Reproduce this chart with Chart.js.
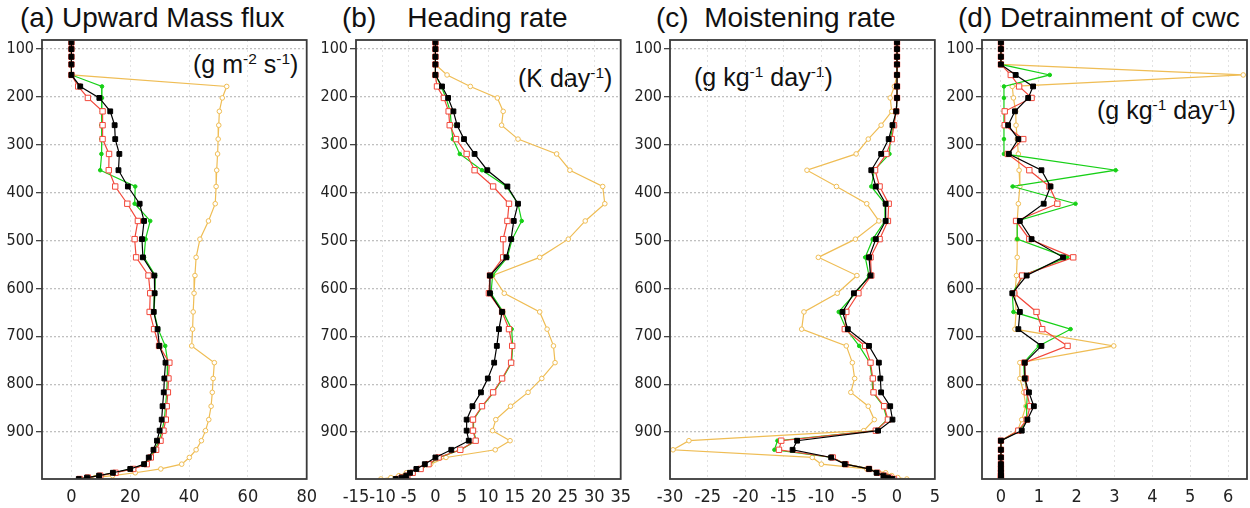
<!DOCTYPE html>
<html>
<head>
<meta charset="utf-8">
<script src="https://cdn.jsdelivr.net/npm/chart.js@4"></script>
<style>
body { margin: 0; background: #fff; width: 1250px; height: 508px; position: relative; overflow: hidden; font-family: 'Liberation Sans', Arial, sans-serif; color: #111; }
canvas { position: absolute; top: 0; }
.ttl { position: absolute; top: 0px; font-size: 28px; white-space: pre; line-height: 36px; }
.unit { position: absolute; font-size: 25px; white-space: pre; line-height: 30px; }
.unit sup { font-size: 62%; position: relative; top: -0.6em; vertical-align: baseline; }
</style>
</head>
<body>
<div class="ttl" style="left:20px">(a) Upward Mass flux</div>
<div class="ttl" style="left:342px">(b)    Heading rate</div>
<div class="ttl" style="left:656px">(c)  Moistening rate</div>
<div class="ttl" style="left:958px">(d) Detrainment of cwc</div>
<div class="unit" style="left:193px;top:49px">(g m<sup>-2</sup> s<sup>-1</sup>)</div>
<div class="unit" style="left:518px;top:63px">(K day<sup>-1</sup>)</div>
<div class="unit" style="left:694px;top:62px">(g kg<sup>-1</sup> day<sup>-1</sup>)</div>
<div class="unit" style="left:1097px;top:95px">(g kg<sup>-1</sup> day<sup>-1</sup>)</div>
<canvas id="ca" width="325" height="508" style="left:0px"></canvas>
<canvas id="cb" width="325" height="508" style="left:314px"></canvas>
<canvas id="cc" width="320" height="508" style="left:628px"></canvas>
<canvas id="cd" width="310" height="508" style="left:940px"></canvas>
<script>
// model levels (hPa)
var levels = [86, 100, 116, 132, 154, 178, 202, 230, 259, 288, 319, 353, 387, 423, 459, 497, 535, 573,
  610, 649, 685, 720, 755, 788, 817, 846, 874, 897, 918, 937, 953, 967, 977, 985, 991, 995, 998];
var pTicks = [100, 200, 300, 400, 500, 600, 700, 800, 900];

// (a) upward mass flux
var massBlack = [0,0,0,0,0,3.0,9.5,13.2,14.7,14.9,16.3,16.0,19.2,23.2,24.7,24.0,24.3,28.2,28.3,28.0,29.3,29.9,32.0,31.6,31.4,31.0,30.7,30.0,29.1,27.9,26.3,24.7,20.0,14.1,9.4,5.3,2.5];
var massRed = [0,0,0,0,0,2.3,5.6,10.6,10.6,10.6,12.8,12.7,14.9,19.0,22.6,21.5,22.0,26.2,26.8,26.6,28.1,29.8,33.3,33.0,32.8,32.4,32.1,31.3,30.3,28.8,27.0,25.6,21.0,15.0,9.8,5.6,2.8];
var massGreen = [0,0,0,0,0,10.4,10.4,10.4,10.2,10.2,10.2,9.8,21.7,21.5,26.8,25.2,24.7,28.5,28.4,28.1,29.5,31.9,32.8,32.6,32.4,32.0,31.6,30.8,29.8,28.4,26.7,25.2,20.5,14.6,9.6,5.4,2.6];
var massYellow = [0,0,0,0,0,52.8,51.3,50.3,50.1,49.9,49.7,49.4,49.2,48.9,46.6,43.7,42.4,42.0,41.7,41.4,41.2,40.9,48.6,48.2,47.9,47.5,46.7,45.6,44.2,42.4,40.1,37.5,30.4,21.7,14.0,8.0,3.0];
var massTicks = [0, 20, 40, 60, 80];

// (b) heating rate
var heatBlack = [0,0,0,0,0,1.25,2.4,3.4,4.1,5.4,7.4,9.8,13.6,15.6,14.8,14.3,13.4,10.3,10.3,12.6,12.0,11.6,11.1,9.9,8.6,7.0,5.9,5.9,6.3,3.0,0,-2.0,-3.6,-4.8,-5.5,-6.4,-7.5];
var heatRed = [0,0,0,0,0,0.3,1.6,2.5,2.7,3.9,5.9,7.4,10.9,13.9,13.6,12.8,12.8,10.3,10.1,12.6,13.9,14.5,14.3,12.6,10.9,8.8,7.1,7.1,7.6,4.7,0.6,-1.3,-2.8,-4.3,-5.3,-6.3,-7.1];
var heatGreen = [0,0,0,0,0,1.1,2.0,2.8,3.0,3.3,4.6,8.8,13.4,15.6,16.3,14.5,13.6,10.8,10.5,12.8,14.4,14.6,14.4,12.7,11.0,8.9,7.2,7.2,7.7,4.8,0.7,-1.2,-2.7,-4.2,-5.2,-6.2,-7.0];
var heatYellow = [0,0,0,0,2.2,6.6,11.7,12.8,12.5,15.6,22.9,25.4,31.6,32.0,28.3,25.1,19.7,10.8,13.0,19.7,21.1,22.3,22.6,20.1,17.5,14.2,11.4,10.8,14.1,11.3,2.0,-0.9,-3.1,-5.5,-6.9,-8.4,-10.3];
var heatTicks = [-15, -10, -5, 0, 5, 10, 15, 20, 25, 30, 35];

// (c) moistening rate
var moistBlack = [0,0,0,0,0,0,0,-0.1,-0.6,-1.1,-2.1,-3.4,-2.8,-1.5,-1.5,-2.8,-3.7,-3.5,-5.7,-7.2,-6.5,-3.7,-2.4,-2.2,-2.1,-0.9,-0.6,-2.5,-13.2,-13.8,-8.7,-6.9,-3.7,-2.7,-1.8,-1.2,-0.6];
var moistRed = [0,0,0,0,0,0,0,-0.1,-0.4,-0.7,-1.4,-2.9,-2.3,-1.1,-1.2,-2.3,-3.5,-3.4,-5.1,-6.7,-6.9,-4.2,-3.5,-3.2,-3.1,-1.7,-1.2,-2.8,-15.3,-15.6,-8.5,-6.8,-3.7,-2.6,-1.7,-1.0,-0.4];
var moistGreen = [0,0,0,0,0,0,0,-0.1,-0.5,-0.9,-1.0,-3.0,-3.4,-1.6,-1.6,-3.2,-4.2,-3.7,-5.5,-7.7,-6.7,-5.0,-3.6,-3.3,-3.2,-1.8,-1.3,-2.8,-15.8,-16.2,-8.6,-6.8,-3.7,-2.6,-1.7,-1.0,-0.4];
var moistYellow = [0,0,0,0,0,-0.35,-0.9,-0.7,-2.1,-3.8,-5.4,-11.9,-8.0,-4.0,-2.4,-5.5,-10.4,-5.3,-7.9,-12.3,-12.6,-6.7,-5.9,-5.6,-6.1,-3.8,-3.0,-4.4,-27.5,-29.6,-11.2,-10.0,-4.0,-1.5,-0.7,0.1,1.3];
var moistTicks = [-30, -25, -20, -15, -10, -5, 0, 5];

// (d) detrainment of cwc
var detBlack = [0,0,0,0,0.39,0.85,0.72,0.37,0.19,0.46,0.21,1.07,1.31,1.13,0.5,0.81,1.64,0.68,0.3,0.5,0.46,1.07,0.63,0.63,0.74,0.87,0.7,0.55,0,0,0,0,0,0,0,0,0];
var detRed = [0,0,0,0,0.26,0.48,0.81,0.1,0.1,0.59,0.18,0.75,1.28,1.49,0.4,0.75,1.91,0.56,0.35,0.94,1.09,1.76,0.62,0.65,0.68,0.77,0.68,0.46,0,0,0,0,0,0,0,0,0];
var detGreen = [0,0,0,0,1.29,0.08,0.08,0.08,0.08,0.08,0.08,3.03,0.31,1.97,0.43,0.43,1.75,0.59,0.3,0.33,1.84,1.0,0.6,0.62,0.7,0.68,0.68,0.5,0,0,0,0,0,0,0,0,0];
var detYellow = [0,0,0,0,6.4,0.3,0.33,0.39,0.4,0.43,0.46,0.48,0.5,0.46,0.43,0.43,0.43,0.41,0.37,0.4,0.37,2.98,0.5,0.5,0.6,0.66,0.55,0.44,0,0,0,0,0,0,0,0,0];
var detTicks = [0, 1, 2, 3, 4, 5, 6];

var tickFont = "'Liberation Sans Narrow', 'DejaVu Sans Condensed', sans-serif";

function profile(vals, color, style, r, fill) {
  return {
    data: levels.map(function(p, i) { return {x: vals[i], y: p}; }),
    borderColor: color,
    borderWidth: 1.2,
    pointStyle: style,
    pointRadius: r,
    pointBorderWidth: 1,
    pointBorderColor: color,
    pointBackgroundColor: fill,
    tension: 0
  };
}

function series(k, r, g, y) {
  return [
    profile(k, '#000000', 'rect', 3.4, '#000000'),
    profile(r, '#f2483b', 'rect', 3.8, '#ffffff'),
    profile(g, '#16d016', 'circle', 1.8, '#16d016'),
    profile(y, '#efbd55', 'circle', 2.3, '#ffffff')
  ];
}

// box round the plot area
var frame = {
  id: 'frame',
  afterDatasetsDraw: function(chart) {
    var a = chart.chartArea, ctx = chart.ctx;
    ctx.save();
    ctx.strokeStyle = '#3a3a3a';
    ctx.lineWidth = 1.8;
    ctx.strokeRect(a.left, a.top, a.right - a.left, a.bottom - a.top);
    ctx.restore();
  }
};

function panel(id, xmin, xmax, xt, padRight, sets) {
  new Chart(document.getElementById(id), {
    type: 'line',
    data: {datasets: sets},
    plugins: [frame],
    options: {
      responsive: false,
      animation: false,
      events: [],
      layout: {autoPadding: false, padding: {top: 40, right: padRight, left: 0, bottom: 0}},
      plugins: {legend: {display: false}, tooltip: {enabled: false}},
      scales: {
        x: {
          type: 'linear', min: xmin, max: xmax,
          afterBuildTicks: function(s) { s.ticks = xt.map(function(v) { return {value: v}; }); },
          afterFit: function(s) { s.height = 29; },
          grid: {color: '#e2e2e2', lineWidth: 1, drawTicks: false},
          border: {display: false, dash: [2, 3]},
          ticks: {font: {family: tickFont, size: 18}, color: '#222', padding: 8, maxRotation: 0, autoSkip: false}
        },
        y: {
          type: 'linear', reverse: true, min: 81, max: 998,
          afterBuildTicks: function(s) { s.ticks = pTicks.map(function(v) { return {value: v}; }); },
          afterFit: function(s) { s.width = 42; },
          grid: {color: '#c0c0c0', lineWidth: 1.3, tickLength: 6, tickColor: '#444', tickWidth: 1.3, tickBorderDash: []},
          border: {display: false, dash: [2, 2]},
          ticks: {font: {family: tickFont, size: 16}, color: '#222', padding: 2}
        }
      }
    }
  });
}

panel('ca', -10, 80, massTicks, 12, series(massBlack, massRed, massGreen, massYellow));
panel('cb', -15, 35, heatTicks, 12, series(heatBlack, heatRed, heatGreen, heatYellow));
panel('cc', -30, 5, moistTicks, 10, series(moistBlack, moistRed, moistGreen, moistYellow));
panel('cd', -0.5, 6.5, detTicks, 3, series(detBlack, detRed, detGreen, detYellow));
</script>
</body>
</html>
